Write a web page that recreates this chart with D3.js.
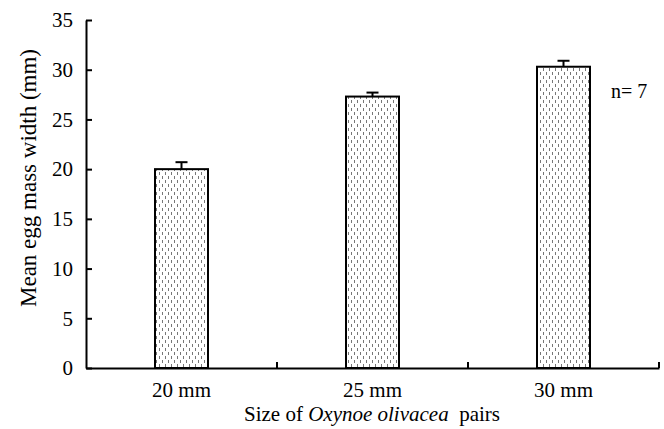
<!DOCTYPE html>
<html>
<head>
<meta charset="utf-8">
<script src="https://cdn.jsdelivr.net/npm/d3@7"></script>
<style>
  body { margin: 0; background: #fff; }
  text { font-family: "Liberation Serif", "Times New Roman", serif; fill: #000; }
</style>
</head>
<body>
<svg id="chart" width="664" height="429"></svg>
<script>
// chart data
const categories = ["20 mm", "25 mm", "30 mm"];
const means = [20.0, 27.3, 30.3];
const errors = [0.7, 0.4, 0.6];
const yTicks = [0, 5, 10, 15, 20, 25, 30, 35];

const svg = d3.select("#chart");
const margin = { left: 86, right: 5, top: 20, bottom: 61 };
const width = 664 - margin.left - margin.right;
const height = 429 - margin.top - margin.bottom;

// dotted fill pattern
const pat = svg.append("defs").append("pattern")
    .attr("id", "dots")
    .attr("patternUnits", "userSpaceOnUse")
    .attr("width", 6).attr("height", 8);
pat.append("rect").attr("width", 6).attr("height", 8).attr("fill", "#fff");
[[0, 0], [3, 4]].forEach(([x, y]) => {
    pat.append("rect").attr("x", x + 1).attr("y", y).attr("width", 1).attr("height", 3).attr("fill", "#777");
});
pat.append("rect").attr("x", 4).attr("y", -4).attr("width", 1).attr("height", 3).attr("fill", "#777");

const g = svg.append("g").attr("transform", `translate(${margin.left},${margin.top})`);

const x = d3.scaleBand().domain(categories).range([0, width]).paddingInner(0).paddingOuter(0);
const y = d3.scaleLinear().domain([0, 35]).range([height, 0]);
const barW = 53;

// bars
g.selectAll(".bar").data(categories).join("rect")
    .attr("x", d => x(d) + x.bandwidth() / 2 - barW / 2)
    .attr("y", (d, i) => y(means[i]))
    .attr("width", barW)
    .attr("height", (d, i) => y(0) - y(means[i]))
    .attr("fill", "url(#dots)")
    .attr("stroke", "#000")
    .attr("stroke-width", 2);

// error bars (upper only)
categories.forEach((c, i) => {
    const cx = x(c) + x.bandwidth() / 2;
    g.append("line").attr("x1", cx).attr("x2", cx)
        .attr("y1", y(means[i])).attr("y2", y(means[i] + errors[i]))
        .attr("stroke", "#000").attr("stroke-width", 2);
    g.append("line").attr("x1", cx - 6).attr("x2", cx + 6)
        .attr("y1", y(means[i] + errors[i])).attr("y2", y(means[i] + errors[i]))
        .attr("stroke", "#000").attr("stroke-width", 2);
});

// y axis
const yAxis = g.append("g")
    .call(d3.axisLeft(y).tickValues(yTicks).tickSize(-6).tickPadding(13).tickSizeOuter(0));
yAxis.select(".domain").attr("stroke-width", 2);
yAxis.selectAll(".tick line").attr("stroke-width", 2);
yAxis.selectAll("text").style("font-size", "21px").style("font-family", "Liberation Serif");

// x axis
const xAxis = g.append("g").attr("transform", `translate(0,${height})`)
    .call(d3.axisBottom(x).tickSize(0).tickPadding(14));
xAxis.select(".domain").attr("stroke-width", 2);
xAxis.selectAll("text").style("font-size", "21px").style("font-family", "Liberation Serif");

// category boundary ticks
const bounds = [1, 2, 3].map(k => k * x.bandwidth());
g.selectAll(".btick").data(bounds).join("line")
    .attr("x1", d => d).attr("x2", d => d)
    .attr("y1", height).attr("y2", height - 6)
    .attr("stroke", "#000").attr("stroke-width", 2);

// axis titles
svg.append("text")
    .attr("transform", "translate(36,178) rotate(-90)")
    .attr("text-anchor", "middle")
    .style("font-size", "23px")
    .text("Mean egg mass width (mm)");

const xt = svg.append("text")
    .attr("x", 372).attr("y", 421)
    .attr("text-anchor", "middle")
    .style("font-size", "21px");
xt.append("tspan").text("Size of ");
xt.append("tspan").style("font-style", "italic").text("Oxynoe olivacea");
xt.append("tspan").text("\u00a0 pairs");

svg.append("text")
    .attr("x", 611).attr("y", 98)
    .style("font-size", "20px")
    .text("n= 7");
</script>
</body>
</html>
